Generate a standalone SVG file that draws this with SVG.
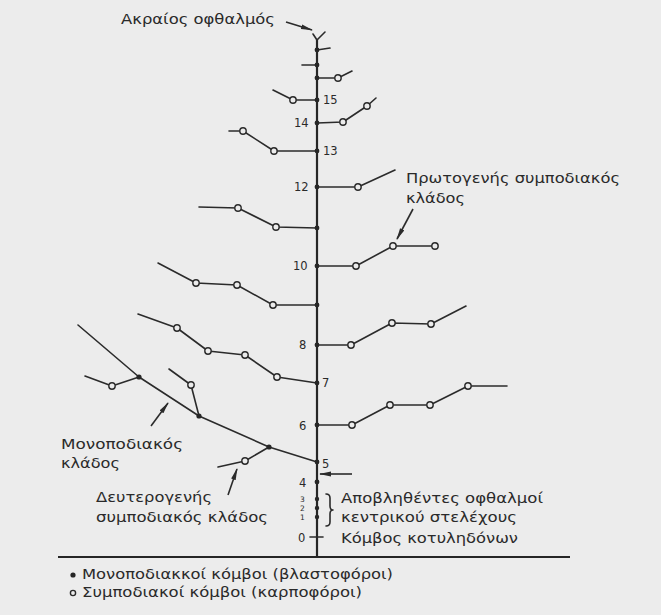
<svg xmlns="http://www.w3.org/2000/svg" width="661" height="615" viewBox="0 0 661 615">
<defs>
<style>
.ln{fill:none;stroke:#2b2b2b;stroke-width:1.6;stroke-linejoin:round;stroke-linecap:round}
.stem{fill:none;stroke:#262626;stroke-width:2.2}
.oc{fill:#ececec;stroke:#2b2b2b;stroke-width:1.4}
.dot{fill:#262626}
.ar{fill:none;stroke:#2b2b2b;stroke-width:1.6;marker-end:url(#ah)}
.t{font-family:"DejaVu Sans","Liberation Sans",sans-serif;font-size:14.5px;fill:#2a2a2a}
.n{font-family:"DejaVu Sans","Liberation Sans",sans-serif;font-size:11.5px;fill:#2a2a2a}
.ns{font-family:"DejaVu Sans","Liberation Sans",sans-serif;font-size:7.5px;fill:#2a2a2a}
</style>
<marker id="ah" viewBox="0 0 12 6" refX="11" refY="3" markerWidth="12" markerHeight="6" markerUnits="userSpaceOnUse" orient="auto">
<path d="M0,0.6 L12,3 L0,5.4 Z" fill="#2b2b2b"/>
</marker>
</defs>
<rect width="661" height="615" fill="#ececec"/>

<g id="ground"><line x1="58" y1="557" x2="570" y2="557" stroke="#262626" stroke-width="1.8"/></g>
<g id="stem">
<line class="stem" x1="317" y1="557" x2="317" y2="39"/>
<polyline class="ln" points="313,34 317,40 325,32"/>
</g>

<g id="connectors">
<polyline class="ln" points="317,50 330,48"/>
<polyline class="ln" points="302,65 317,65"/>
<polyline class="ln" points="317,78 338,78 352,71"/>
<polyline class="ln" points="317,100 293,100 273,90"/>
<polyline class="ln" points="317,123 343,122 367,106 376,98"/>
<polyline class="ln" points="317,151 274,151 243,131 229,131"/>
<polyline class="ln" points="317,187 358,187 395,170"/>
<polyline class="ln" points="317,228 276,227 238,208 199,207"/>
<polyline class="ln" points="317,266 356,266 393,246 435,246"/>
<polyline class="ln" points="317,305 273,305 237,285 196,283 158,263"/>
<polyline class="ln" points="317,345 351,345 392,323 431,324 466,306"/>
<polyline class="ln" points="317,383 277,377 245,355 208,351 177,328 138,314"/>
<polyline class="ln" points="317,425 352,425 390,405 430,405 468,386 507,386"/>
<polyline class="ln" points="317,462 269,447 199,416 139,377 78,325"/>
<polyline class="ln" points="139,377 112,386 85,376"/>
<polyline class="ln" points="199,416 191,385 169,369"/>
<polyline class="ln" points="269,447 245,461 218,467"/>
<line class="ln" x1="310" y1="537" x2="323" y2="537"/>
<path class="ln" d="M326,494 Q330,494 330,498 L330,506 Q330,510 333,510 Q330,510 330,514 L330,522 Q330,526 326,526"/>
<line class="ar" x1="286" y1="22" x2="312" y2="30"/>
<line class="ar" x1="413" y1="209" x2="397" y2="239"/>
<line class="ar" x1="151" y1="426" x2="168" y2="403"/>
<line class="ar" x1="228" y1="495" x2="237" y2="469"/>
<line class="ar" x1="352" y1="474" x2="320" y2="474"/>
</g>

<g id="monopodial-nodes">
<circle class="dot" cx="317" cy="50" r="2.4"/>
<circle class="dot" cx="317" cy="65" r="2.4"/>
<circle class="dot" cx="317" cy="78" r="2.4"/>
<circle class="dot" cx="317" cy="100" r="2.4"/>
<circle class="dot" cx="317" cy="123" r="2.4"/>
<circle class="dot" cx="317" cy="151" r="2.4"/>
<circle class="dot" cx="317" cy="187" r="2.4"/>
<circle class="dot" cx="317" cy="228" r="2.4"/>
<circle class="dot" cx="317" cy="266" r="2.4"/>
<circle class="dot" cx="317" cy="305" r="2.4"/>
<circle class="dot" cx="317" cy="345" r="2.4"/>
<circle class="dot" cx="317" cy="383" r="2.4"/>
<circle class="dot" cx="317" cy="425" r="2.4"/>
<circle class="dot" cx="317" cy="462" r="2.4"/>
<circle class="dot" cx="317" cy="482" r="2.4"/>
<circle class="dot" cx="317" cy="499" r="2.2"/>
<circle class="dot" cx="317" cy="508" r="2.2"/>
<circle class="dot" cx="317" cy="517" r="2.2"/>
<circle class="dot" cx="269" cy="447" r="2.6"/>
<circle class="dot" cx="199" cy="416" r="2.6"/>
<circle class="dot" cx="139" cy="377" r="2.6"/>
</g>

<g id="sympodial-nodes">
<circle class="oc" cx="338" cy="78" r="3.2"/>
<circle class="oc" cx="293" cy="100" r="3.2"/>
<circle class="oc" cx="343" cy="122" r="3.2"/>
<circle class="oc" cx="367" cy="106" r="3.2"/>
<circle class="oc" cx="274" cy="151" r="3.2"/>
<circle class="oc" cx="243" cy="131" r="3.2"/>
<circle class="oc" cx="358" cy="187" r="3.2"/>
<circle class="oc" cx="276" cy="227" r="3.2"/>
<circle class="oc" cx="238" cy="208" r="3.2"/>
<circle class="oc" cx="356" cy="266" r="3.2"/>
<circle class="oc" cx="393" cy="246" r="3.2"/>
<circle class="oc" cx="435" cy="246" r="3.2"/>
<circle class="oc" cx="273" cy="305" r="3.2"/>
<circle class="oc" cx="237" cy="285" r="3.2"/>
<circle class="oc" cx="196" cy="283" r="3.2"/>
<circle class="oc" cx="351" cy="345" r="3.2"/>
<circle class="oc" cx="392" cy="323" r="3.2"/>
<circle class="oc" cx="431" cy="324" r="3.2"/>
<circle class="oc" cx="277" cy="377" r="3.2"/>
<circle class="oc" cx="245" cy="355" r="3.2"/>
<circle class="oc" cx="208" cy="351" r="3.2"/>
<circle class="oc" cx="177" cy="328" r="3.2"/>
<circle class="oc" cx="352" cy="425" r="3.2"/>
<circle class="oc" cx="390" cy="405" r="3.2"/>
<circle class="oc" cx="430" cy="405" r="3.2"/>
<circle class="oc" cx="468" cy="386" r="3.2"/>
<circle class="oc" cx="112" cy="386" r="3.2"/>
<circle class="oc" cx="191" cy="385" r="3.2"/>
<circle class="oc" cx="245" cy="461" r="3.2"/>
</g>

<g id="node-numbers">
<text class="n" x="323" y="104">15</text>
<text class="n" x="294" y="127">14</text>
<text class="n" x="323" y="155">13</text>
<text class="n" x="294" y="191">12</text>
<text class="n" x="293" y="270">10</text>
<text class="n" x="299" y="349">8</text>
<text class="n" x="322" y="387">7</text>
<text class="n" x="299" y="430">6</text>
<text class="n" x="322" y="468">5</text>
<text class="n" x="299" y="487">4</text>
<text class="ns" x="300" y="502">3</text>
<text class="ns" x="300" y="511">2</text>
<text class="ns" x="300" y="520">1</text>
<text class="n" x="298" y="542">0</text>
</g>

<g id="labels">
<text class="t" x="121" y="24" textLength="154" lengthAdjust="spacingAndGlyphs">Ακραίος οφθαλμός</text>
<text class="t" x="406" y="183" textLength="214" lengthAdjust="spacingAndGlyphs">Πρωτογενής συμποδιακός</text>
<text class="t" x="406" y="203" textLength="59" lengthAdjust="spacingAndGlyphs">κλάδος</text>
<text class="t" x="61" y="449" textLength="122" lengthAdjust="spacingAndGlyphs">Μονοποδιακός</text>
<text class="t" x="61" y="468" textLength="59" lengthAdjust="spacingAndGlyphs">κλάδος</text>
<text class="t" x="96" y="502" textLength="116" lengthAdjust="spacingAndGlyphs">Δευτερογενής</text>
<text class="t" x="96" y="522" textLength="172" lengthAdjust="spacingAndGlyphs">συμποδιακός κλάδος</text>
<text class="t" x="341" y="503" textLength="202" lengthAdjust="spacingAndGlyphs">Αποβληθέντες οφθαλμοί</text>
<text class="t" x="341" y="522" textLength="176" lengthAdjust="spacingAndGlyphs">κεντρικού στελέχους</text>
<text class="t" x="341" y="543" textLength="177" lengthAdjust="spacingAndGlyphs">Κόμβος κοτυληδόνων</text>
</g>

<g id="legend">
<circle class="dot" cx="73" cy="575" r="2.6"/>
<text class="t" x="82" y="579" textLength="311" lengthAdjust="spacingAndGlyphs">Μονοποδιακκοί κόμβοι (βλαστοφόροι)</text>
<circle class="oc" cx="73" cy="593" r="2.6"/>
<text class="t" x="82" y="597" textLength="280" lengthAdjust="spacingAndGlyphs">Συμποδιακοί κόμβοι (καρποφόροι)</text>
</g>
</svg>
